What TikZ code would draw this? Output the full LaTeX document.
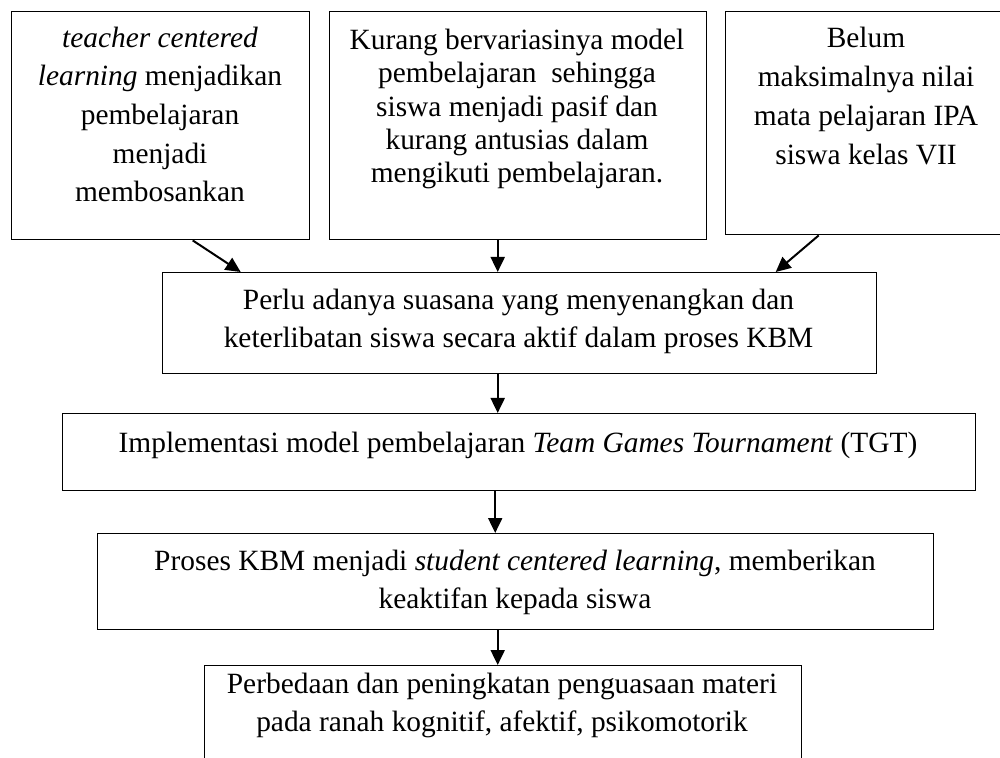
\documentclass[tikz,border=0pt]{standalone}
\usepackage{fontspec}
\setmainfont{Liberation Serif}
\usepackage{tikz}
\usetikzlibrary{arrows.meta}

\begin{document}
\begin{tikzpicture}[
    x=0.5pt, y=-0.5pt,
    box/.style={draw, line width=0.7pt, inner sep=0pt, anchor=north west},
    txt/.style={align=center, inner sep=0pt, anchor=base, font=\fontsize{14.7}{19}\selectfont},
    arr/.style={-{Triangle[length=7.5pt, width=7pt]}, line width=1pt}
  ]
    \useasboundingbox (0,0) rectangle (1000,758);
    \clip (0,0) rectangle (1000,758);
    \fill[white] (0,0) rectangle (1000,758);

    \node[box, minimum width=149pt, minimum height=114pt] (b1) at (11,11) {};
    \node[box, minimum width=188.5pt, minimum height=114pt] (b2) at (329,11) {};
    \node[box, minimum width=141pt, minimum height=111.5pt] (b3) at (725,11) {};
    \node[box, minimum width=357pt, minimum height=50.5pt] (b4) at (162,272) {};
    \node[box, minimum width=456.5pt, minimum height=38.5pt] (b5) at (62,413) {};
    \node[box, minimum width=418pt, minimum height=48pt] (b6) at (97,533) {};
    \node[box, minimum width=298.5pt, minimum height=75pt] (b7) at (204,665) {};

    \node[txt, font=\fontsize{14.7}{19.35}\selectfont] (t1) at (160,202) {\textit{teacher centered}\\ \textit{learning} menjadikan\\ pembelajaran\\ menjadi\\ membosankan};
    \node[txt, font=\fontsize{14.7}{16.7}\selectfont] (t2) at (517,183) {Kurang bervariasinya model\\ pembelajaran\ \ sehingga\\ siswa menjadi pasif dan\\ kurang antusias dalam\\ mengikuti pembelajaran.};
    \node[txt, font=\fontsize{14.7}{19.5}\selectfont] (t3) at (866,165) {Belum\\ maksimalnya nilai\\ mata pelajaran IPA\\ siswa kelas VII};
    \node[txt] (t4) at (518.5,348) {Perlu adanya suasana yang menyenangkan dan\\ keterlibatan siswa secara aktif dalam proses KBM};
    \node[txt] (t5) at (518,452) {Implementasi model pembelajaran \textit{Team Games Tournament} (TGT)};
    \node[txt] (t6) at (515,608) {Proses KBM menjadi \textit{student centered learning}, memberikan\\ keaktifan kepada siswa};
    \node[txt] (t7) at (502,731) {Perbedaan dan peningkatan penguasaan materi\\ pada ranah kognitif, afektif, psikomotorik};

    \draw[arr] ([xshift=16pt]b1.south) -- ([xshift=-139.5pt]b4.north);
    \draw[arr] ([xshift=-11pt]b4.north |- b2.south) -- ([xshift=-11pt]b4.north);
    \draw[arr] ([xshift=-24pt]b3.south) -- ([xshift=128pt]b4.north);
    \draw[arr] ([xshift=-11pt]b4.south) -- ([xshift=-11pt]b4.south |- b5.north);
    \draw[arr] ([xshift=-12pt]b5.south) -- ([xshift=-12pt]b5.south |- b6.north);
    \draw[arr] ([xshift=-9pt]b6.south) -- ([xshift=-9pt]b6.south |- b7.north);
  \end{tikzpicture}
\end{document}
